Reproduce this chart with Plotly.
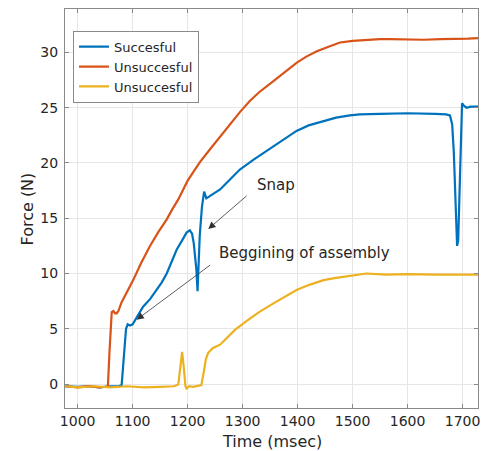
import plotly.graph_objects as go

# ---- data ----
t_succ = [977, 1000, 1020, 1040, 1060, 1075, 1080, 1084, 1088, 1091, 1095, 1100, 1107, 1119, 1132,
          1144, 1153, 1162, 1171, 1180, 1190, 1198, 1204, 1208, 1211, 1216, 1218, 1222, 1226, 1230,
          1234, 1240, 1259, 1277, 1295, 1320, 1356, 1378, 1398, 1420, 1447, 1470, 1495, 1513, 1550,
          1600, 1650, 1670, 1677, 1681, 1684, 1687, 1690, 1692, 1694, 1696, 1699, 1702, 1707, 1715, 1728]
f_succ = [-0.2, -0.25, -0.2, -0.3, -0.2, -0.2, -0.1, 2.5, 5.0, 5.4, 5.3, 5.4, 6.0, 7.0, 7.7,
          8.5, 9.2, 10.0, 11.0, 12.15, 13.0, 13.7, 13.9, 13.6, 12.8, 10.3, 8.4, 13.4, 16.0, 17.4,
          16.8, 17.0, 17.6, 18.5, 19.4, 20.3, 21.5, 22.3, 22.9, 23.4, 23.8, 24.1, 24.3, 24.4, 24.45,
          24.5, 24.45, 24.4, 24.3, 23.5, 21.0, 16.5, 12.5, 13.0, 17.0, 22.0, 25.4, 25.2, 25.0, 25.1, 25.1]

t_uns1 = [977, 1000, 1020, 1040, 1050, 1055, 1058, 1060, 1062, 1065, 1068, 1071, 1074, 1080, 1090,
          1101, 1115, 1131, 1146, 1162, 1172, 1183, 1200, 1222, 1240, 1253, 1270, 1283, 1295, 1313,
          1330, 1356, 1378, 1398, 1415, 1435, 1455, 1477, 1500, 1525, 1550, 1568, 1600, 1629, 1660,
          1690, 1710, 1728]
f_uns1 = [-0.2, -0.3, -0.2, -0.3, -0.25, -0.2, 3.0, 5.5, 6.5, 6.6, 6.4, 6.4, 6.6, 7.4, 8.3,
          9.4, 10.9, 12.45, 13.7, 14.9, 15.8, 16.7, 18.4, 20.05, 21.2, 22.0, 23.1, 23.9, 24.6, 25.6,
          26.4, 27.4, 28.3, 29.05, 29.6, 30.1, 30.5, 30.9, 31.05, 31.15, 31.2, 31.2, 31.15, 31.15, 31.2,
          31.2, 31.25, 31.3]

t_uns2 = [977, 1000, 1030, 1060, 1090, 1120, 1150, 1175, 1183, 1187, 1190, 1193, 1196, 1198, 1203,
          1210, 1218, 1225, 1229, 1233, 1237, 1246, 1259, 1272, 1286, 1310, 1330, 1356, 1378, 1398,
          1420, 1447, 1470, 1495, 1525, 1560, 1600, 1650, 1700, 1728]
f_uns2 = [-0.2, -0.3, -0.2, -0.3, -0.2, -0.3, -0.25, -0.2, -0.05, 1.8, 2.9, 1.5, -0.2, -0.4, -0.2,
          -0.25, -0.15, -0.1, 1.0, 2.2, 2.8, 3.26, 3.56, 4.2, 4.9, 5.8, 6.5, 7.3, 7.9, 8.5,
          8.95, 9.4, 9.6, 9.8, 10.0, 9.9, 9.95, 9.9, 9.9, 9.9]

series_names = ["Succesful", "Unsuccesful", "Unsuccesful"]
series_colors = ["#0072BD", "#D95319", "#EDB120"]

x_ticks = [1000, 1100, 1200, 1300, 1400, 1500, 1600, 1700]
y_ticks = [0, 5, 10, 15, 20, 25, 30]
x_range = [977, 1728]
y_range = [-2.17, 33.93]

FONT = "DejaVu Sans"
TXT = "#262626"

fig = go.Figure()
for t, f, name, col in zip([t_succ, t_uns1, t_uns2], [f_succ, f_uns1, f_uns2],
                           series_names, series_colors):
    fig.add_trace(go.Scatter(x=t, y=f, mode="lines", name=name,
                             line=dict(color=col, width=2.2)))

axis_common = dict(
    showgrid=True, gridcolor="#e6e6e6", gridwidth=1,
    showline=True, linecolor="#8a8a8a", linewidth=1, mirror="ticks",
    ticks="inside", ticklen=4, tickcolor="#8a8a8a",
    tickfont=dict(family=FONT, size=14, color=TXT),
    zeroline=False,
)
fig.update_xaxes(range=x_range, tickvals=x_ticks, ticklabelstandoff=0, **axis_common)
fig.update_yaxes(range=y_range, tickvals=y_ticks, ticklabelstandoff=3, **axis_common)

annotations = [
    dict(text="Time (msec)", xref="paper", yref="paper", x=0.5, y=-0.0845,
         xanchor="center", yanchor="middle", showarrow=False,
         font=dict(family=FONT, size=16, color=TXT)),
    dict(text="Force (N)", xref="paper", yref="paper", x=-0.0896, y=0.5,
         xanchor="center", yanchor="middle", textangle=-90, showarrow=False,
         font=dict(family=FONT, size=16, color=TXT)),
    dict(text="Snap", xref="x", yref="y", x=1322, y=18.04, xanchor="left", yanchor="middle",
         showarrow=False, font=dict(family=FONT, size=15, color=TXT)),
    dict(text="Beggining of assembly", xref="x", yref="y", x=1253, y=11.86,
         xanchor="left", yanchor="middle",
         showarrow=False, font=dict(family=FONT, size=15, color=TXT)),
    dict(text="", xref="x", yref="y", axref="x", ayref="y", x=1237.5, y=14.03,
         ax=1310, ay=17.14, showarrow=True, arrowhead=2, arrowsize=1.8,
         arrowwidth=0.8, arrowcolor="#333333"),
    dict(text="", xref="x", yref="y", axref="x", ayref="y", x=1107.3, y=5.82,
         ax=1243.6, ay=10.86, showarrow=True, arrowhead=2, arrowsize=1.8,
         arrowwidth=0.8, arrowcolor="#333333"),
]

fig.update_layout(
    width=488, height=451,
    margin=dict(l=65, r=10, t=9, b=43),
    paper_bgcolor="white", plot_bgcolor="white",
    showlegend=True,
    legend=dict(x=0.0194, y=0.9456, xanchor="left", yanchor="top",
                bgcolor="white", bordercolor="#8a8a8a", borderwidth=1,
                font=dict(family=FONT, size=13, color=TXT),
                tracegroupgap=0, itemwidth=30),
    annotations=annotations,
    font=dict(family=FONT, color=TXT),
)

fig.write_html("out.html")
